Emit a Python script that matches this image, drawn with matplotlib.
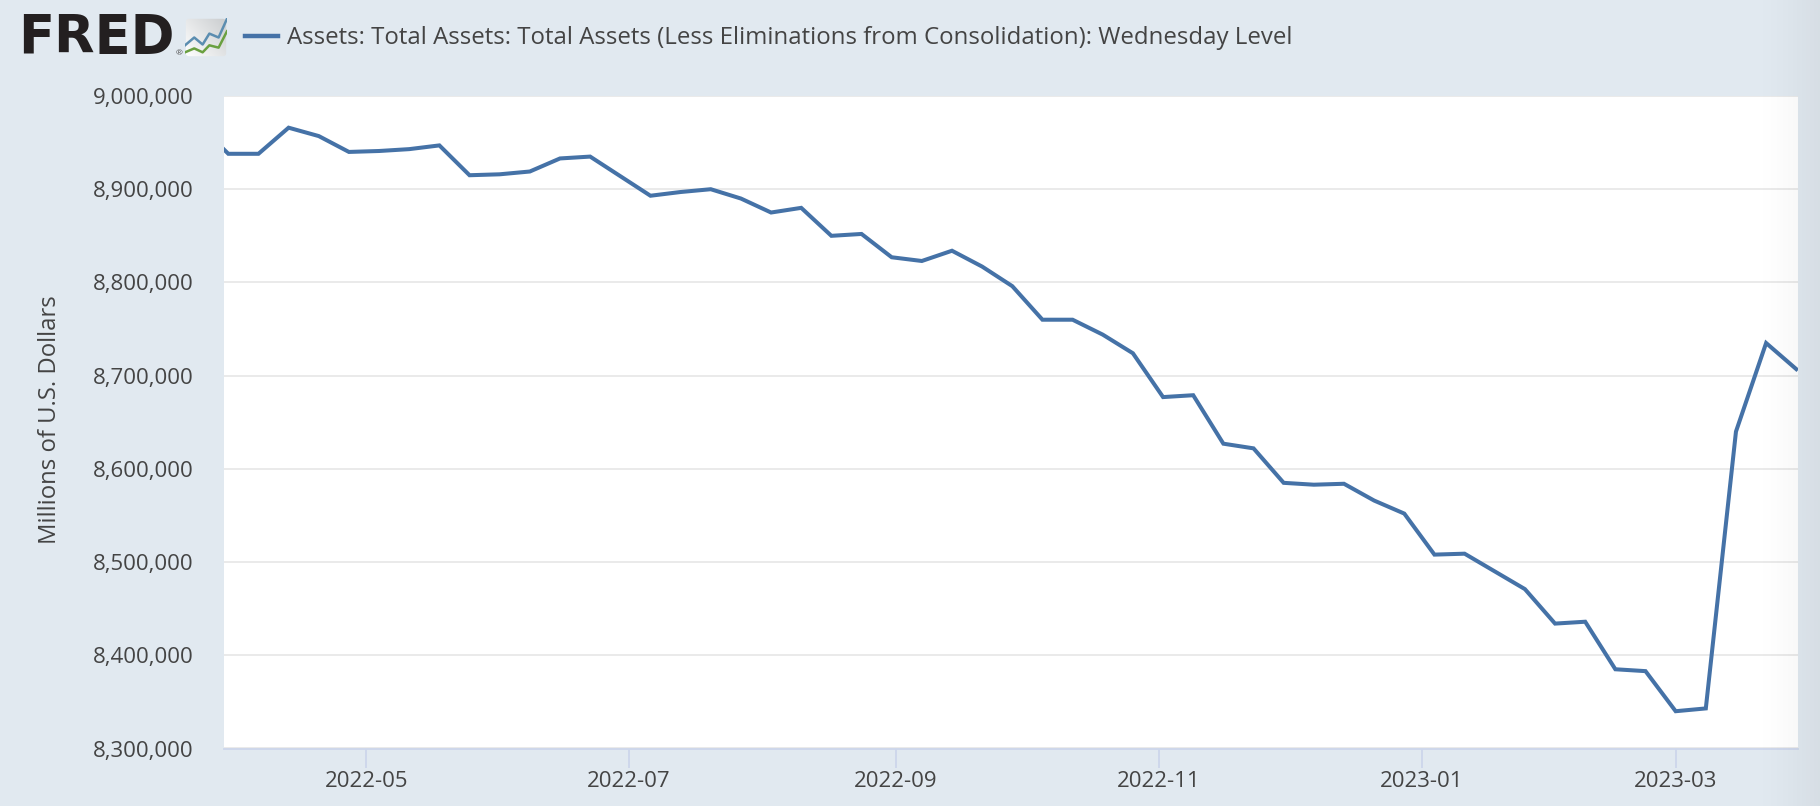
import matplotlib
matplotlib.use("Agg")
import matplotlib.pyplot as plt
import matplotlib.dates as mdates
import numpy as np
from matplotlib.patches import FancyBboxPatch
from matplotlib.lines import Line2D
from datetime import date, timedelta

plt.rcParams['font.family'] = ['Open Sans', 'DejaVu Sans']

START = date(2022, 3, 23)
values = [8970, 8938, 8938, 8966, 8957, 8940, 8941, 8943, 8947, 8915, 8916, 8919, 8933,
          8935, 8914, 8893, 8897, 8900, 8890, 8875, 8880, 8850, 8852, 8827, 8823, 8834,
          8817, 8796, 8760, 8760, 8744, 8724, 8677, 8679, 8627, 8622, 8585, 8583, 8584,
          8566, 8552, 8508, 8509, 8490, 8471, 8434, 8436, 8385, 8383, 8340, 8343, 8640,
          8735, 8707]
dates = [START + timedelta(days=7 * i) for i in range(len(values))]
y_ticks = [8300, 8400, 8500, 8600, 8700, 8800, 8900, 9000]
x_ticks = [date(2022, 5, 1), date(2022, 7, 1), date(2022, 9, 1), date(2022, 11, 1),
           date(2023, 1, 1), date(2023, 3, 1)]
legend_label = "Assets: Total Assets: Total Assets (Less Eliminations from Consolidation): Wednesday Level"
y_label = "Millions of U.S. Dollars"
# decorative logo icon polylines (icon-local units)
icon_x = [0, 22, 42, 58, 80, 100]
icon_blue = [30, 50, 32, 60, 50, 98]
icon_green = [12, 22, 12, 30, 24, 66]

BG = '#e1e9f0'
LINE = '#4572a7'
TEXT = '#444444'
W, H = 1820, 806

fig = plt.figure(figsize=(W / 100, H / 100), dpi=100, facecolor=BG)
ax = fig.add_axes([224 / W, 1 - 748.5 / H, (1798 - 224) / W, (748.5 - 96) / H])
ax.plot([mdates.date2num(d) for d in dates], [v * 1000 for v in values], color=LINE, lw=2.9,
        solid_joinstyle='miter', clip_on=True)
ax.set_xlim(mdates.date2num(date(2022, 3, 29)), mdates.date2num(date(2023, 3, 29)) + 0.4)
ax.set_ylim(8300000, 9000000)
ax.set_yticks([v * 1000 for v in y_ticks])
ax.set_yticklabels([f"{v * 1000:,}" for v in y_ticks])
ax.set_xticks([mdates.date2num(d) for d in x_ticks])
ax.set_xticklabels([d.strftime('%Y-%m') for d in x_ticks])
ax.grid(axis='y', color='#e6e6e6', lw=1.2)
ax.set_axisbelow(True)
for s in ('top', 'left', 'right'):
    ax.spines[s].set_visible(False)
ax.spines['bottom'].set_color('#ccd6eb')
ax.spines['bottom'].set_linewidth(1.3)
ax.tick_params(axis='y', length=0, pad=22, labelsize=16, labelcolor=TEXT)
ax.tick_params(axis='x', length=13.5, width=1.3, color='#ccd6eb', pad=3, labelsize=16, labelcolor=TEXT)
fig.text(50 / W, 1 - 420 / H, y_label, rotation=90, ha='center', va='center', fontsize=17.2, color=TEXT)

fig.add_artist(Line2D([245 / W, 278 / W], [1 - 36 / H] * 2, color=LINE, lw=3.2))
fig.text(287 / W, 1 - 37.5 / H, legend_label, ha='left', va='center', fontsize=17.25, color=TEXT)

# FRED wordmark
fig.text(18 / W, 1 - 37.5 / H, "FRED", ha='left', va='center', fontsize=38, color='#231f20',
         family=['DejaVu Sans'], weight='bold')
fig.text(179 / W, 1 - 54 / H, "\u00ae", ha='center', va='center', fontsize=6, color='#555555')

# logo icon
icon = fig.add_axes([185 / W, 1 - 57 / H, 42 / W, 39 / H])
icon.set_xlim(0, 100)
icon.set_ylim(0, 100)
icon.axis('off')
grad = np.linspace(0, 1, 64)[None, :] * 0.55 + np.linspace(1, 0, 64)[:, None] * 0.45
box = FancyBboxPatch((2, 2), 96, 96, boxstyle='round,pad=0,rounding_size=8', transform=icon.transData,
                     fc='none', ec='none')
icon.add_patch(box)
im = icon.imshow(grad[::-1], extent=(0, 100, 0, 100), cmap=matplotlib.colors.LinearSegmentedColormap.from_list(
    'g', ['#ffffff', '#c9ccce']), vmin=0, vmax=1, aspect='auto', origin='lower')
im.set_clip_path(box)
icon.plot(icon_x, icon_blue, color='#5b8db0', lw=1.8)
icon.plot(icon_x, icon_green, color='#6aa040', lw=1.8)

# soft shadow at the right edge of the page
ov = fig.add_axes([0, 0, 1, 1], zorder=50)
ov.axis('off')
shade = np.zeros((2, W, 4))
shade[:, :, 3] = np.clip((np.arange(W) - 1750) / (W - 1750), 0, 1) ** 1.5 * 0.05
ov.imshow(shade, aspect='auto', extent=(0, 1, 0, 1))

fig.savefig('out.png', dpi=100, facecolor=BG)
